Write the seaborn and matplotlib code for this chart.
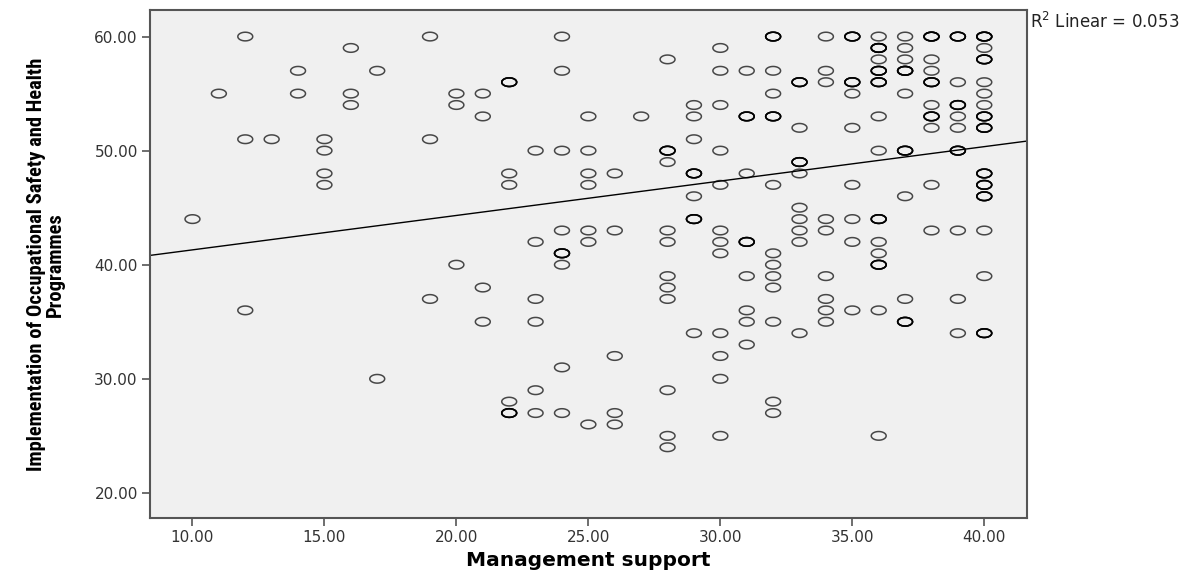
import numpy as np
import pandas as pd
import matplotlib
matplotlib.use("Agg")
import matplotlib.pyplot as plt
from matplotlib import font_manager
from matplotlib.path import Path
import seaborn as sns

# each visible circle, one line per management-support score;
# overlap = respondents stacked on the same circle (darker rings in the reference)
support = [
    10,
    11,
    12, 12, 12,
    13,
    14, 14,
    15, 15, 15, 15,
    16, 16, 16,
    17, 17,
    19, 19, 19,
    20, 20, 20,
    21, 21, 21, 21,
    22, 22, 22, 22, 22,
    23, 23, 23, 23, 23, 23,
    24, 24, 24, 24, 24, 24, 24, 24,
    25, 25, 25, 25, 25, 25, 25,
    26, 26, 26, 26, 26,
    27,
    28, 28, 28, 28, 28, 28, 28, 28, 28, 28, 28,
    29, 29, 29, 29, 29, 29, 29,
    30, 30, 30, 30, 30, 30, 30, 30, 30, 30, 30, 30,
    31, 31, 31, 31, 31, 31, 31, 31,
    32, 32, 32, 32, 32, 32, 32, 32, 32, 32, 32, 32,
    33, 33, 33, 33, 33, 33, 33, 33, 33,
    34, 34, 34, 34, 34, 34, 34, 34, 34,
    35, 35, 35, 35, 35, 35, 35, 35,
    36, 36, 36, 36, 36, 36, 36, 36, 36, 36, 36, 36, 36,
    37, 37, 37, 37, 37, 37, 37, 37, 37,
    38, 38, 38, 38, 38, 38, 38, 38, 38,
    39, 39, 39, 39, 39, 39, 39, 39, 39,
    40, 40, 40, 40, 40, 40, 40, 40, 40, 40, 40, 40, 40, 40,
]
implementation = [
    44,
    55,
    60, 51, 36,
    51,
    57, 55,
    51, 50, 48, 47,
    59, 55, 54,
    57, 30,
    60, 51, 37,
    55, 54, 40,
    55, 53, 38, 35,
    56, 48, 47, 28, 27,
    50, 42, 37, 35, 29, 27,
    60, 57, 50, 43, 41, 40, 31, 27,
    53, 50, 48, 47, 43, 42, 26,
    48, 43, 32, 27, 26,
    53,
    58, 50, 49, 43, 42, 39, 38, 37, 29, 25, 24,
    54, 53, 51, 48, 46, 44, 34,
    59, 57, 54, 50, 47, 43, 42, 41, 34, 32, 30, 25,
    57, 53, 48, 42, 39, 36, 35, 33,
    60, 57, 55, 53, 47, 41, 40, 39, 38, 35, 28, 27,
    56, 52, 49, 48, 45, 44, 43, 42, 34,
    60, 57, 56, 44, 43, 39, 37, 36, 35,
    60, 56, 55, 52, 47, 44, 42, 36,
    60, 59, 58, 57, 56, 53, 50, 44, 42, 41, 40, 36, 25,
    60, 59, 58, 57, 55, 50, 46, 37, 35,
    60, 58, 57, 56, 54, 53, 52, 47, 43,
    60, 56, 54, 53, 52, 50, 43, 37, 34,
    60, 59, 58, 56, 55, 54, 53, 52, 48, 47, 46, 43, 39, 34,
]
overlap = [
    1,
    1,
    1, 1, 1,
    1,
    1, 1,
    1, 1, 1, 1,
    1, 1, 1,
    1, 1,
    1, 1, 1,
    1, 1, 1,
    1, 1, 1, 1,
    4, 1, 1, 1, 4,
    1, 1, 1, 1, 1, 1,
    1, 1, 1, 1, 4, 1, 1, 1,
    1, 1, 1, 1, 1, 1, 1,
    1, 1, 1, 1, 1,
    1,
    1, 4, 1, 1, 1, 1, 1, 1, 1, 1, 1,
    1, 1, 1, 4, 1, 4, 1,
    1, 1, 1, 1, 1, 1, 1, 1, 1, 1, 1, 1,
    1, 4, 1, 4, 1, 1, 1, 1,
    4, 1, 1, 4, 1, 1, 1, 1, 1, 1, 1, 1,
    4, 1, 4, 1, 1, 1, 1, 1, 1,
    1, 1, 1, 1, 1, 1, 1, 1, 1,
    4, 4, 1, 1, 1, 1, 1, 1,
    1, 5, 1, 4, 4, 1, 1, 4, 1, 1, 4, 1, 1,
    1, 1, 1, 5, 1, 4, 1, 1, 4,
    5, 1, 1, 4, 1, 4, 1, 1, 1,
    4, 1, 4, 1, 1, 4, 1, 1, 1,
    5, 1, 4, 1, 1, 1, 4, 4, 4, 4, 4, 1, 1, 4,
]

x_ticks = [10, 15, 20, 25, 30, 35, 40]
y_ticks = [20, 30, 40, 50, 60]
x_name = "Management support"
y_name = "Implementation of Occupational Safety and Health\nProgrammes"
r2_text = "R$^2$ Linear = 0.053"

df = pd.DataFrame({x_name: support, "impl": implementation, "n": overlap})
df = df.loc[df.index.repeat(df["n"])].reset_index(drop=True)

sns.set_theme(style="white", rc={
    "axes.facecolor": "#f0f0f0",
    "axes.edgecolor": "#555555",
    "axes.linewidth": 1.5,
    "mathtext.default": "regular",
})
plt.rcParams["font.family"] = ["DejaVu Sans"]

# the y title is a narrow, heavy face in the reference
fonts = font_manager.fontManager.ttflist
names = {f.name for f in fonts}
if "Liberation Sans Narrow" in names:
    ylab_font = {"family": "Liberation Sans Narrow", "size": 14.5}
elif "Roboto Condensed" in names:
    ylab_font = {"family": "Roboto Condensed", "size": 14.8}
elif "Roboto" in names:
    ylab_font = {"family": "Roboto", "size": 14.0}
else:
    ylab_font = {"family": "DejaVu Sans", "size": 10.5}

fig, ax = plt.subplots(figsize=(12.02, 5.73), dpi=100)
fig.subplots_adjust(left=0.125, right=0.854, top=0.982, bottom=0.096)

# SPSS circles come out as flat ovals in the reference
t = np.linspace(0, 2 * np.pi, 61)
oval = Path(np.column_stack([np.cos(t), 0.58 * np.sin(t)]), closed=True)

ax.set_xlim(8.4, 41.6)
ax.set_ylim(17.8, 62.3)

sns.scatterplot(data=df, x=x_name, y="impl", marker=oval, s=115,
                facecolors="none", edgecolors="black", linewidth=1.1,
                alpha=0.7, ax=ax)
sns.regplot(data=df, x=x_name, y="impl", scatter=False, ci=None,
            truncate=False, line_kws={"color": "black", "lw": 1.0}, ax=ax)
ax.set_xlim(8.4, 41.6)
ax.set_ylim(17.8, 62.3)

ax.set_xticks(x_ticks)
ax.set_xticklabels([f"{v:.2f}" for v in x_ticks])
ax.set_yticks(y_ticks)
ax.set_yticklabels([f"{v:.2f}" for v in y_ticks])
ax.tick_params(axis="both", direction="out", length=6, width=1.2,
               color="#555555", labelsize=11, labelcolor="#333333",
               left=True, bottom=True, pad=3)

ax.set_xlabel(x_name, fontsize=14.5, fontweight="bold", color="black")
ax.xaxis.set_label_coords(0.5, -0.066)
ax.set_ylabel(y_name, fontweight="bold", color="black", linespacing=1.0,
              **ylab_font)
ax.yaxis.set_label_coords(-0.097, 0.5)

fig.text(0.857, 0.979, r2_text, ha="left", va="top", fontsize=12,
         color="#222222")

fig.savefig("out.png", dpi=100)
